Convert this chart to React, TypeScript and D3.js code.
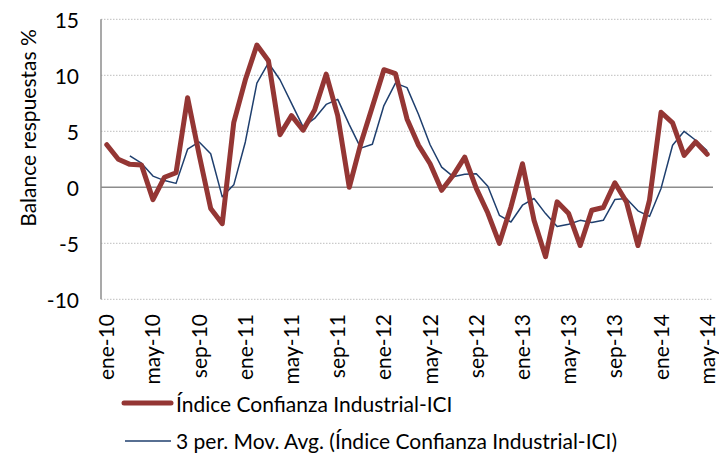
import React from "react";
import * as d3 from "d3";

const months = ["ene","feb","mar","abr","may","jun","jul","ago","sep","oct","nov","dic"];
const years = ["10","11","12","13","14"];
const categories: string[] = [];
years.forEach((y) => months.forEach((m) => categories.push(`${m}-${y}`)));
const cats = categories.slice(0, 53); // ene-10 .. may-14

const iciValues = [
  3.8, 2.5, 2.05, 2.0, -1.1, 0.9, 1.3, 8.0, 2.9, -1.9, -3.25, 5.8,
  9.6, 12.7, 11.3, 4.7, 6.4, 5.1, 6.9, 10.1, 6.4, 0.0, 3.9, 7.2,
  10.5, 10.15, 6.1, 3.75, 2.1, -0.27, 1.07, 2.7, -0.1, -2.3, -5.0, -1.75,
  2.1, -2.95, -6.2, -1.3, -2.35, -5.2, -2.05, -1.8, 0.4, -1.3, -5.2, -1.15,
  6.7, 5.75, 2.85, 4.05, 2.95,
];

const movAvgValues: (number | null)[] = [
  null, null, 2.8, 2.15, 1.0, 0.6, 0.35, 3.4, 4.05, 3.0, -0.85, 0.22,
  4.05, 9.3, 11.1, 9.6, 7.5, 5.4, 6.15, 7.4, 7.85, 5.6, 3.5, 3.85,
  7.3, 9.3, 8.9, 6.5, 3.8, 1.8, 0.95, 1.16, 1.22, 0.1, -2.5, -3.1,
  -1.6, -1.0, -2.35, -3.5, -3.3, -2.95, -3.15, -2.95, -1.1, -1.0, -2.1, -2.6,
  -0.1, 3.75, 5.0, 4.2, 3.25,
];

const yTicks = [-10, -5, 0, 5, 10, 15];
const labelEvery = 4;
const seriesNames = [
  "Índice Confianza Industrial-ICI",
  "3 per. Mov. Avg. (Índice Confianza Industrial-ICI)",
];

const W = 719;
const H = 453;
const FONT = "Lato, 'Open Sans', sans-serif";
const RED = "#943634";
const BLUE = "#1F3F6E";
const FS = 21;

export default function App() {
  const left = 101, right = 713, top = 19.3, bottom = 299.3;
  const x = d3.scaleBand<string>().domain(cats).range([left, right]);
  const y = d3.scaleLinear().domain([-10, 15]).range([bottom, top]);
  const cx = (c: string) => (x(c) as number) + x.bandwidth() / 2;

  const redLine = d3
    .line<number>()
    .x((_, i) => cx(cats[i]))
    .y((d) => y(d));
  const blueLine = d3
    .line<number | null>()
    .defined((d) => d !== null)
    .x((_, i) => cx(cats[i]))
    .y((d) => y(d as number));

  return (
    <svg
      width={W}
      height={H}
      style={{ position: "absolute", left: 0, top: 0, background: "#fff" }}
      fontFamily={FONT}
    >
      {yTicks.filter((t) => t !== 0).map((t) => (
        <line
          key={t}
          x1={left}
          x2={right}
          y1={y(t)}
          y2={y(t)}
          stroke="#bdbdbd"
          strokeWidth={1}
          strokeDasharray="1.5,1.5"
        />
      ))}
      <line x1={left} x2={right} y1={y(0)} y2={y(0)} stroke="#8c8c8c" strokeWidth={1.5} />
      <line x1={left} x2={left} y1={top} y2={bottom} stroke="#8c8c8c" strokeWidth={1.5} />
      {yTicks.map((t) => (
        <text
          key={t}
          x={79}
          y={y(t)}
          textAnchor="end"
          dominantBaseline="central"
          fontSize={FS}
          fill="#000"
        >
          {t}
        </text>
      ))}
      <text
        transform={`translate(27,128) rotate(-90)`}
        textAnchor="middle"
        dominantBaseline="central"
        fontSize={FS}
        fill="#000"
      >
        Balance respuestas %
      </text>
      {cats.map((c, i) =>
        i % labelEvery === 0 ? (
          <text
            key={c}
            transform={`translate(${cx(c) - 1},314) rotate(-90)`}
            textAnchor="end"
            dominantBaseline="central"
            fontSize={FS}
            fill="#000"
          >
            {c}
          </text>
        ) : null
      )}
      <path
        d={blueLine(movAvgValues) || ""}
        fill="none"
        stroke={BLUE}
        strokeWidth={1.5}
        strokeLinejoin="round"
      />
      <path
        d={redLine(iciValues) || ""}
        fill="none"
        stroke={RED}
        strokeWidth={5}
        strokeLinejoin="round"
        strokeLinecap="round"
      />
      <line x1={124} x2={171} y1={403} y2={403} stroke={RED} strokeWidth={5} strokeLinecap="round" />
      <text x={176} y={403} dominantBaseline="central" fontSize={FS} fill="#000">
        {seriesNames[0]}
      </text>
      <line x1={125} x2={171} y1={441} y2={441} stroke={BLUE} strokeWidth={1.5} />
      <text x={176} y={440} dominantBaseline="central" fontSize={FS} fill="#000">
        {seriesNames[1]}
      </text>
    </svg>
  );
}
